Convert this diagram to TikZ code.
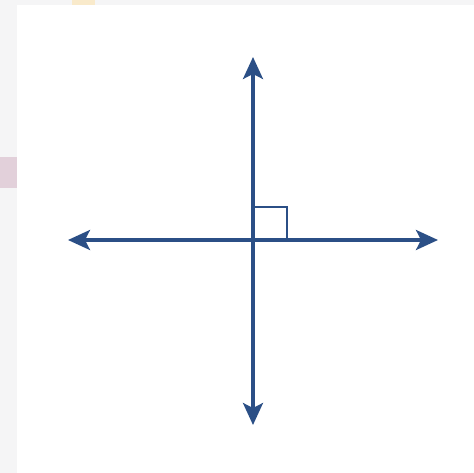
\documentclass[tikz,border=0pt]{standalone}
\usetikzlibrary{arrows.meta}
\definecolor{axisblue}{HTML}{2B4F86}
\definecolor{pagegray}{HTML}{F5F5F6}
\definecolor{fadepink}{HTML}{E2D0DA}
\definecolor{fadeorange}{HTML}{F9EACB}
\tikzset{>={Stealth[length=22*0.02cm,width=20*0.02cm,inset=5*0.02cm]},axis/.style={axisblue,line width=1.8pt,<->},rightmark/.style={axisblue,line width=.8pt}}
\begin{document}
\begin{tikzpicture}[x=0.02cm,y=-0.02cm]
\useasboundingbox (0,0) rectangle (474,473);
\fill[pagegray] (0,0) rectangle (474,473);\fill[white] (17,5) rectangle (474,473);
\fill[fadeorange] (72,0) rectangle (95,5);\fill[fadepink] (0,157) rectangle (17,188);
\coordinate (O) at (253,240);\coordinate (L) at (68,240);\coordinate (R) at (438,240);
\coordinate (T) at (253,57);\coordinate (B) at (253,425);
\draw[rightmark] (O) ++(0,-33) -| ++(34,33);
\draw[axis] (L)--(R);\draw[axis] (T)--(B);
\end{tikzpicture}
\end{document}
